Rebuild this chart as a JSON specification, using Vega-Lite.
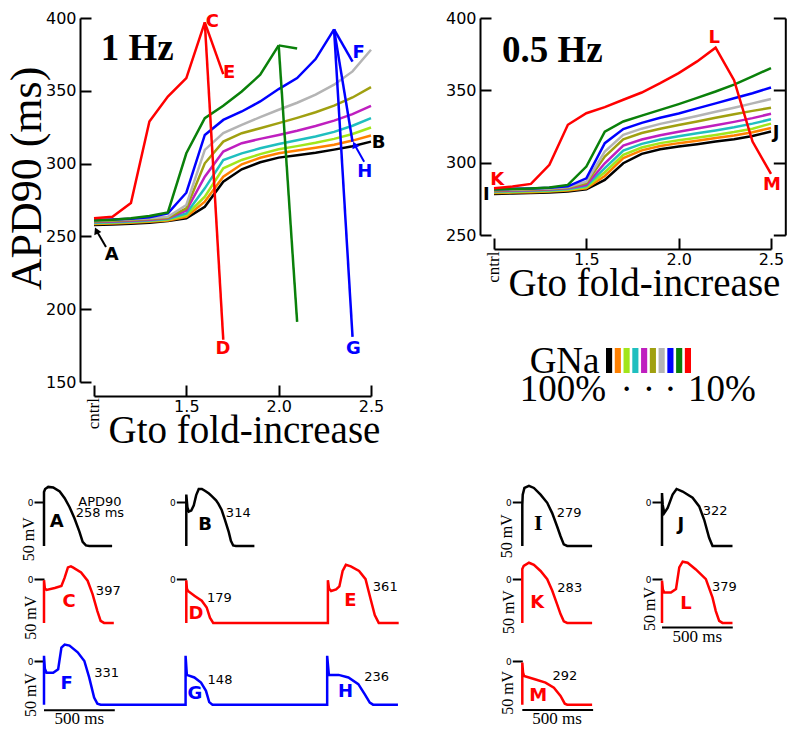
{
"$schema": "https://vega.github.io/schema/vega-lite/v6.json",
"background": "white",
"padding": {"left": 4, "top": 10, "right": 0, "bottom": 0},
"config": {"view": {"stroke": null}, "font": "DejaVu Sans", "axis": {"grid": false, "domainColor": "black", "tickColor": "black", "labelColor": "black", "titleColor": "black"}},
"datasets": {
"hz1": [
{"gna":"100%","br":"m","g":1.0,"apd":257.8},{"gna":"100%","br":"m","g":1.1,"apd":258.2},{"gna":"100%","br":"m","g":1.2,"apd":258.7},{"gna":"100%","br":"m","g":1.3,"apd":259.4},{"gna":"100%","br":"m","g":1.4,"apd":260.6},{"gna":"100%","br":"m","g":1.5,"apd":262.4},{"gna":"100%","br":"m","g":1.6,"apd":270.4},{"gna":"100%","br":"m","g":1.7,"apd":287.6},{"gna":"100%","br":"m","g":1.8,"apd":296.1},{"gna":"100%","br":"m","g":1.9,"apd":300.9},{"gna":"100%","br":"m","g":2.0,"apd":304.1},{"gna":"100%","br":"m","g":2.1,"apd":305.8},{"gna":"100%","br":"m","g":2.2,"apd":307.5},{"gna":"100%","br":"m","g":2.3,"apd":309.6},{"gna":"100%","br":"m","g":2.4,"apd":311.9},{"gna":"100%","br":"m","g":2.5,"apd":315.1},
{"gna":"90%","br":"m","g":1.0,"apd":258.5},{"gna":"90%","br":"m","g":1.1,"apd":258.9},{"gna":"90%","br":"m","g":1.2,"apd":259.4},{"gna":"90%","br":"m","g":1.3,"apd":260.1},{"gna":"90%","br":"m","g":1.4,"apd":261.0},{"gna":"90%","br":"m","g":1.5,"apd":263.5},{"gna":"90%","br":"m","g":1.6,"apd":273.9},{"gna":"90%","br":"m","g":1.7,"apd":291.0},{"gna":"90%","br":"m","g":1.8,"apd":299.5},{"gna":"90%","br":"m","g":1.9,"apd":304.0},{"gna":"90%","br":"m","g":2.0,"apd":307.1},{"gna":"90%","br":"m","g":2.1,"apd":309.0},{"gna":"90%","br":"m","g":2.2,"apd":310.9},{"gna":"90%","br":"m","g":2.3,"apd":313.0},{"gna":"90%","br":"m","g":2.4,"apd":315.8},{"gna":"90%","br":"m","g":2.5,"apd":319.3},
{"gna":"80%","br":"m","g":1.0,"apd":259.0},{"gna":"80%","br":"m","g":1.1,"apd":259.4},{"gna":"80%","br":"m","g":1.2,"apd":259.9},{"gna":"80%","br":"m","g":1.3,"apd":260.6},{"gna":"80%","br":"m","g":1.4,"apd":261.5},{"gna":"80%","br":"m","g":1.5,"apd":264.7},{"gna":"80%","br":"m","g":1.6,"apd":277.3},{"gna":"80%","br":"m","g":1.7,"apd":296.8},{"gna":"80%","br":"m","g":1.8,"apd":302.5},{"gna":"80%","br":"m","g":1.9,"apd":306.5},{"gna":"80%","br":"m","g":2.0,"apd":309.9},{"gna":"80%","br":"m","g":2.1,"apd":312.0},{"gna":"80%","br":"m","g":2.2,"apd":314.3},{"gna":"80%","br":"m","g":2.3,"apd":317.0},{"gna":"80%","br":"m","g":2.4,"apd":320.3},{"gna":"80%","br":"m","g":2.5,"apd":324.8},
{"gna":"70%","br":"m","g":1.0,"apd":259.4},{"gna":"70%","br":"m","g":1.1,"apd":259.8},{"gna":"70%","br":"m","g":1.2,"apd":260.3},{"gna":"70%","br":"m","g":1.3,"apd":261.0},{"gna":"70%","br":"m","g":1.4,"apd":262.0},{"gna":"70%","br":"m","g":1.5,"apd":265.8},{"gna":"70%","br":"m","g":1.6,"apd":283.0},{"gna":"70%","br":"m","g":1.7,"apd":302.5},{"gna":"70%","br":"m","g":1.8,"apd":307.0},{"gna":"70%","br":"m","g":1.9,"apd":310.5},{"gna":"70%","br":"m","g":2.0,"apd":313.5},{"gna":"70%","br":"m","g":2.1,"apd":316.0},{"gna":"70%","br":"m","g":2.2,"apd":318.6},{"gna":"70%","br":"m","g":2.3,"apd":321.8},{"gna":"70%","br":"m","g":2.4,"apd":326.0},{"gna":"70%","br":"m","g":2.5,"apd":331.2},
{"gna":"60%","br":"m","g":1.0,"apd":259.9},{"gna":"60%","br":"m","g":1.1,"apd":260.3},{"gna":"60%","br":"m","g":1.2,"apd":260.8},{"gna":"60%","br":"m","g":1.3,"apd":261.5},{"gna":"60%","br":"m","g":1.4,"apd":262.4},{"gna":"60%","br":"m","g":1.5,"apd":267.7},{"gna":"60%","br":"m","g":1.6,"apd":291.0},{"gna":"60%","br":"m","g":1.7,"apd":308.3},{"gna":"60%","br":"m","g":1.8,"apd":314.0},{"gna":"60%","br":"m","g":1.9,"apd":317.0},{"gna":"60%","br":"m","g":2.0,"apd":319.7},{"gna":"60%","br":"m","g":2.1,"apd":322.6},{"gna":"60%","br":"m","g":2.2,"apd":325.8},{"gna":"60%","br":"m","g":2.3,"apd":329.5},{"gna":"60%","br":"m","g":2.4,"apd":334.0},{"gna":"60%","br":"m","g":2.5,"apd":339.7},
{"gna":"50%","br":"m","g":1.0,"apd":260.3},{"gna":"50%","br":"m","g":1.1,"apd":260.7},{"gna":"50%","br":"m","g":1.2,"apd":261.2},{"gna":"50%","br":"m","g":1.3,"apd":261.9},{"gna":"50%","br":"m","g":1.4,"apd":262.8},{"gna":"50%","br":"m","g":1.5,"apd":269.3},{"gna":"50%","br":"m","g":1.6,"apd":300.2},{"gna":"50%","br":"m","g":1.7,"apd":315.1},{"gna":"50%","br":"m","g":1.8,"apd":320.9},{"gna":"50%","br":"m","g":1.9,"apd":324.3},{"gna":"50%","br":"m","g":2.0,"apd":327.8},{"gna":"50%","br":"m","g":2.1,"apd":331.4},{"gna":"50%","br":"m","g":2.2,"apd":335.3},{"gna":"50%","br":"m","g":2.3,"apd":339.8},{"gna":"50%","br":"m","g":2.4,"apd":345.4},{"gna":"50%","br":"m","g":2.5,"apd":352.5},
{"gna":"40%","br":"m","g":1.0,"apd":260.8},{"gna":"40%","br":"m","g":1.1,"apd":261.2},{"gna":"40%","br":"m","g":1.2,"apd":261.7},{"gna":"40%","br":"m","g":1.3,"apd":262.4},{"gna":"40%","br":"m","g":1.4,"apd":263.5},{"gna":"40%","br":"m","g":1.5,"apd":271.6},{"gna":"40%","br":"m","g":1.6,"apd":309.4},{"gna":"40%","br":"m","g":1.7,"apd":320.9},{"gna":"40%","br":"m","g":1.8,"apd":326.6},{"gna":"40%","br":"m","g":1.9,"apd":331.9},{"gna":"40%","br":"m","g":2.0,"apd":337.0},{"gna":"40%","br":"m","g":2.1,"apd":341.8},{"gna":"40%","br":"m","g":2.2,"apd":347.4},{"gna":"40%","br":"m","g":2.3,"apd":354.2},{"gna":"40%","br":"m","g":2.4,"apd":363.3},{"gna":"40%","br":"m","g":2.5,"apd":378.2},
{"gna":"30%","br":"m","g":1.0,"apd":261.2},{"gna":"30%","br":"m","g":1.1,"apd":261.6},{"gna":"30%","br":"m","g":1.2,"apd":262.2},{"gna":"30%","br":"m","g":1.3,"apd":263.2},{"gna":"30%","br":"m","g":1.4,"apd":265.8},{"gna":"30%","br":"m","g":1.5,"apd":280.0},{"gna":"30%","br":"m","g":1.6,"apd":319.7},{"gna":"30%","br":"m","g":1.7,"apd":330.0},{"gna":"30%","br":"m","g":1.8,"apd":335.8},{"gna":"30%","br":"m","g":1.9,"apd":342.7},{"gna":"30%","br":"m","g":2.0,"apd":351.2},{"gna":"30%","br":"m","g":2.1,"apd":358.7},{"gna":"30%","br":"m","g":2.2,"apd":371.8},{"gna":"30%","br":"m","g":2.3,"apd":392.2},
{"gna":"30%","br":"F","g":2.3,"apd":392.2},{"gna":"30%","br":"F","g":2.4,"apd":370.0},
{"gna":"30%","br":"H","g":2.3,"apd":392.2},{"gna":"30%","br":"H","g":2.4,"apd":315.0},
{"gna":"30%","br":"G","g":2.3,"apd":392.2},{"gna":"30%","br":"G","g":2.4,"apd":181.0},
{"gna":"20%","br":"m","g":1.0,"apd":261.0},{"gna":"20%","br":"m","g":1.1,"apd":261.5},{"gna":"20%","br":"m","g":1.2,"apd":262.5},{"gna":"20%","br":"m","g":1.3,"apd":264.0},{"gna":"20%","br":"m","g":1.4,"apd":266.5},{"gna":"20%","br":"m","g":1.5,"apd":307.1},{"gna":"20%","br":"m","g":1.6,"apd":331.2},{"gna":"20%","br":"m","g":1.7,"apd":339.7},{"gna":"20%","br":"m","g":1.8,"apd":349.5},{"gna":"20%","br":"m","g":1.9,"apd":361.0},{"gna":"20%","br":"m","g":2.0,"apd":381.2},
{"gna":"20%","br":"a","g":2.0,"apd":381.2},{"gna":"20%","br":"a","g":2.1,"apd":379.0},
{"gna":"20%","br":"b","g":2.0,"apd":381.2},{"gna":"20%","br":"b","g":2.1,"apd":191.3},
{"gna":"10%","br":"m","g":1.0,"apd":262.4},{"gna":"10%","br":"m","g":1.1,"apd":263.5},{"gna":"10%","br":"m","g":1.2,"apd":273.0},{"gna":"10%","br":"m","g":1.3,"apd":328.9},{"gna":"10%","br":"m","g":1.4,"apd":346.0},{"gna":"10%","br":"m","g":1.5,"apd":358.7},{"gna":"10%","br":"m","g":1.6,"apd":397.0},
{"gna":"10%","br":"E","g":1.6,"apd":397.0},{"gna":"10%","br":"E","g":1.7,"apd":361.5},
{"gna":"10%","br":"D","g":1.6,"apd":397.0},{"gna":"10%","br":"D","g":1.7,"apd":179.0}
],
"hz05": [
{"gna":"100%","g":1.0,"apd":278.4},{"gna":"100%","g":1.1,"apd":278.7},{"gna":"100%","g":1.2,"apd":279.0},{"gna":"100%","g":1.3,"apd":279.4},{"gna":"100%","g":1.4,"apd":280.0},{"gna":"100%","g":1.5,"apd":281.6},{"gna":"100%","g":1.6,"apd":288.1},{"gna":"100%","g":1.7,"apd":299.6},{"gna":"100%","g":1.8,"apd":306.1},{"gna":"100%","g":1.9,"apd":309.3},{"gna":"100%","g":2.0,"apd":311.1},{"gna":"100%","g":2.1,"apd":312.8},{"gna":"100%","g":2.2,"apd":314.6},{"gna":"100%","g":2.3,"apd":316.2},{"gna":"100%","g":2.4,"apd":318.5},{"gna":"100%","g":2.5,"apd":321.5},
{"gna":"90%","g":1.0,"apd":279.0},{"gna":"90%","g":1.1,"apd":279.3},{"gna":"90%","g":1.2,"apd":279.6},{"gna":"90%","g":1.3,"apd":280.0},{"gna":"90%","g":1.4,"apd":280.7},{"gna":"90%","g":1.5,"apd":282.3},{"gna":"90%","g":1.6,"apd":290.8},{"gna":"90%","g":1.7,"apd":303.1},{"gna":"90%","g":1.8,"apd":308.5},{"gna":"90%","g":1.9,"apd":311.5},{"gna":"90%","g":2.0,"apd":313.5},{"gna":"90%","g":2.1,"apd":315.2},{"gna":"90%","g":2.2,"apd":317.0},{"gna":"90%","g":2.3,"apd":318.8},{"gna":"90%","g":2.4,"apd":321.0},{"gna":"90%","g":2.5,"apd":324.0},
{"gna":"80%","g":1.0,"apd":279.5},{"gna":"80%","g":1.1,"apd":279.8},{"gna":"80%","g":1.2,"apd":280.1},{"gna":"80%","g":1.3,"apd":280.5},{"gna":"80%","g":1.4,"apd":281.3},{"gna":"80%","g":1.5,"apd":283.0},{"gna":"80%","g":1.6,"apd":293.4},{"gna":"80%","g":1.7,"apd":305.4},{"gna":"80%","g":1.8,"apd":310.5},{"gna":"80%","g":1.9,"apd":313.5},{"gna":"80%","g":2.0,"apd":315.5},{"gna":"80%","g":2.1,"apd":317.3},{"gna":"80%","g":2.2,"apd":319.2},{"gna":"80%","g":2.3,"apd":321.2},{"gna":"80%","g":2.4,"apd":323.5},{"gna":"80%","g":2.5,"apd":327.0},
{"gna":"70%","g":1.0,"apd":280.0},{"gna":"70%","g":1.1,"apd":280.3},{"gna":"70%","g":1.2,"apd":280.6},{"gna":"70%","g":1.3,"apd":281.0},{"gna":"70%","g":1.4,"apd":281.8},{"gna":"70%","g":1.5,"apd":283.9},{"gna":"70%","g":1.6,"apd":296.2},{"gna":"70%","g":1.7,"apd":308.4},{"gna":"70%","g":1.8,"apd":313.0},{"gna":"70%","g":1.9,"apd":316.0},{"gna":"70%","g":2.0,"apd":318.3},{"gna":"70%","g":2.1,"apd":320.3},{"gna":"70%","g":2.2,"apd":322.3},{"gna":"70%","g":2.3,"apd":324.5},{"gna":"70%","g":2.4,"apd":327.0},{"gna":"70%","g":2.5,"apd":330.0},
{"gna":"60%","g":1.0,"apd":280.4},{"gna":"60%","g":1.1,"apd":280.7},{"gna":"60%","g":1.2,"apd":281.0},{"gna":"60%","g":1.3,"apd":281.4},{"gna":"60%","g":1.4,"apd":282.3},{"gna":"60%","g":1.5,"apd":284.6},{"gna":"60%","g":1.6,"apd":299.6},{"gna":"60%","g":1.7,"apd":311.8},{"gna":"60%","g":1.8,"apd":316.0},{"gna":"60%","g":1.9,"apd":319.0},{"gna":"60%","g":2.0,"apd":321.4},{"gna":"60%","g":2.1,"apd":323.6},{"gna":"60%","g":2.2,"apd":325.8},{"gna":"60%","g":2.3,"apd":328.2},{"gna":"60%","g":2.4,"apd":330.8},{"gna":"60%","g":2.5,"apd":333.8},
{"gna":"50%","g":1.0,"apd":280.8},{"gna":"50%","g":1.1,"apd":281.1},{"gna":"50%","g":1.2,"apd":281.4},{"gna":"50%","g":1.3,"apd":281.8},{"gna":"50%","g":1.4,"apd":282.7},{"gna":"50%","g":1.5,"apd":285.8},{"gna":"50%","g":1.6,"apd":304.2},{"gna":"50%","g":1.7,"apd":316.2},{"gna":"50%","g":1.8,"apd":320.5},{"gna":"50%","g":1.9,"apd":323.5},{"gna":"50%","g":2.0,"apd":326.0},{"gna":"50%","g":2.1,"apd":328.5},{"gna":"50%","g":2.2,"apd":331.0},{"gna":"50%","g":2.3,"apd":333.5},{"gna":"50%","g":2.4,"apd":335.8},{"gna":"50%","g":2.5,"apd":338.0},
{"gna":"40%","g":1.0,"apd":281.2},{"gna":"40%","g":1.1,"apd":281.5},{"gna":"40%","g":1.2,"apd":281.8},{"gna":"40%","g":1.3,"apd":282.2},{"gna":"40%","g":1.4,"apd":283.2},{"gna":"40%","g":1.5,"apd":286.9},{"gna":"40%","g":1.6,"apd":307.7},{"gna":"40%","g":1.7,"apd":319.2},{"gna":"40%","g":1.8,"apd":323.5},{"gna":"40%","g":1.9,"apd":326.8},{"gna":"40%","g":2.0,"apd":329.5},{"gna":"40%","g":2.1,"apd":332.3},{"gna":"40%","g":2.2,"apd":335.2},{"gna":"40%","g":2.3,"apd":338.0},{"gna":"40%","g":2.4,"apd":341.0},{"gna":"40%","g":2.5,"apd":344.0},
{"gna":"30%","g":1.0,"apd":281.6},{"gna":"30%","g":1.1,"apd":281.9},{"gna":"30%","g":1.2,"apd":282.2},{"gna":"30%","g":1.3,"apd":282.6},{"gna":"30%","g":1.4,"apd":283.6},{"gna":"30%","g":1.5,"apd":289.2},{"gna":"30%","g":1.6,"apd":313.5},{"gna":"30%","g":1.7,"apd":323.2},{"gna":"30%","g":1.8,"apd":327.5},{"gna":"30%","g":1.9,"apd":331.0},{"gna":"30%","g":2.0,"apd":334.0},{"gna":"30%","g":2.1,"apd":337.5},{"gna":"30%","g":2.2,"apd":341.0},{"gna":"30%","g":2.3,"apd":344.5},{"gna":"30%","g":2.4,"apd":348.0},{"gna":"30%","g":2.5,"apd":352.0},
{"gna":"20%","g":1.0,"apd":281.5},{"gna":"20%","g":1.1,"apd":281.8},{"gna":"20%","g":1.2,"apd":282.2},{"gna":"20%","g":1.3,"apd":282.8},{"gna":"20%","g":1.4,"apd":284.6},{"gna":"20%","g":1.5,"apd":297.3},{"gna":"20%","g":1.6,"apd":321.5},{"gna":"20%","g":1.7,"apd":328.5},{"gna":"20%","g":1.8,"apd":332.5},{"gna":"20%","g":1.9,"apd":336.5},{"gna":"20%","g":2.0,"apd":340.5},{"gna":"20%","g":2.1,"apd":344.8},{"gna":"20%","g":2.2,"apd":349.2},{"gna":"20%","g":2.3,"apd":354.0},{"gna":"20%","g":2.4,"apd":359.6},{"gna":"20%","g":2.5,"apd":365.4},
{"gna":"10%","g":1.0,"apd":282.3},{"gna":"10%","g":1.1,"apd":283.5},{"gna":"10%","g":1.2,"apd":285.3},{"gna":"10%","g":1.3,"apd":298.5},{"gna":"10%","g":1.4,"apd":326.2},{"gna":"10%","g":1.5,"apd":334.2},{"gna":"10%","g":1.6,"apd":338.4},{"gna":"10%","g":1.7,"apd":343.5},{"gna":"10%","g":1.8,"apd":348.5},{"gna":"10%","g":1.9,"apd":355.0},{"gna":"10%","g":2.0,"apd":361.9},{"gna":"10%","g":2.1,"apd":370.0},{"gna":"10%","g":2.2,"apd":379.5},{"gna":"10%","g":2.3,"apd":357.0},{"gna":"10%","g":2.4,"apd":314.6},{"gna":"10%","g":2.5,"apd":292.2}
],
"lab1": [
{"txt":"C","g":1.641,"apd":397.5,"gna":"10%"},{"txt":"E","g":1.732,"apd":362,"gna":"10%"},{"txt":"D","g":1.699,"apd":173,"gna":"10%"},{"txt":"A","g":1.096,"apd":237,"gna":"100%"},{"txt":"B","g":2.541,"apd":314,"gna":"100%"},{"txt":"F","g":2.433,"apd":376,"gna":"30%"},{"txt":"H","g":2.467,"apd":294,"gna":"30%"},{"txt":"G","g":2.404,"apd":173,"gna":"30%"}
],
"lab05": [
{"txt":"L","g":2.192,"apd":386,"gna":"10%"},{"txt":"K","g":1.018,"apd":288,"gna":"10%"},{"txt":"I","g":0.958,"apd":277.6,"gna":"100%"},{"txt":"J","g":2.527,"apd":320.3,"gna":"100%"},{"txt":"M","g":2.505,"apd":284.6,"gna":"10%"}
],
"ticks05": [{"apd":250},{"apd":400}],
"leg": [{"gna":"100%"},{"gna":"90%"},{"gna":"80%"},{"gna":"70%"},{"gna":"60%"},{"gna":"50%"},{"gna":"40%"},{"gna":"30%"},{"gna":"20%"},{"gna":"10%"}],
"ap": [
{"pan":"A","i":0,"t":0,"v":-85},{"pan":"A","i":1,"t":0,"v":20},{"pan":"A","i":2,"t":8,"v":26},{"pan":"A","i":3,"t":30,"v":30},{"pan":"A","i":4,"t":65,"v":29},{"pan":"A","i":5,"t":111,"v":21},{"pan":"A","i":6,"t":146,"v":8},{"pan":"A","i":7,"t":180,"v":-9},{"pan":"A","i":8,"t":215,"v":-31},{"pan":"A","i":9,"t":250,"v":-57},{"pan":"A","i":10,"t":273,"v":-77},{"pan":"A","i":11,"t":296,"v":-84},{"pan":"A","i":12,"t":320,"v":-85},{"pan":"A","i":13,"t":481,"v":-85},
{"pan":"B","i":0,"t":0,"v":-85},{"pan":"B","i":1,"t":0,"v":15},{"pan":"B","i":2,"t":8,"v":-10},{"pan":"B","i":3,"t":18,"v":-18},{"pan":"B","i":4,"t":35,"v":-16},{"pan":"B","i":5,"t":53,"v":-6},{"pan":"B","i":6,"t":70,"v":14},{"pan":"B","i":7,"t":88,"v":26},{"pan":"B","i":8,"t":110,"v":26},{"pan":"B","i":9,"t":134,"v":22},{"pan":"B","i":10,"t":160,"v":17},{"pan":"B","i":11,"t":180,"v":12},{"pan":"B","i":12,"t":210,"v":4},{"pan":"B","i":13,"t":227,"v":-3},{"pan":"B","i":14,"t":250,"v":-15},{"pan":"B","i":15,"t":273,"v":-34},{"pan":"B","i":16,"t":300,"v":-58},{"pan":"B","i":17,"t":315,"v":-75},{"pan":"B","i":18,"t":331,"v":-84},{"pan":"B","i":19,"t":350,"v":-85},{"pan":"B","i":20,"t":481,"v":-85},
{"pan":"C","i":0,"t":0,"v":-85},{"pan":"C","i":1,"t":0,"v":-2},{"pan":"C","i":2,"t":6,"v":-18},{"pan":"C","i":3,"t":18,"v":-21},{"pan":"C","i":4,"t":76,"v":-17},{"pan":"C","i":5,"t":123,"v":-13},{"pan":"C","i":6,"t":146,"v":3},{"pan":"C","i":7,"t":169,"v":23},{"pan":"C","i":8,"t":190,"v":25},{"pan":"C","i":9,"t":204,"v":23},{"pan":"C","i":10,"t":262,"v":13},{"pan":"C","i":11,"t":308,"v":-3},{"pan":"C","i":12,"t":343,"v":-29},{"pan":"C","i":13,"t":377,"v":-62},{"pan":"C","i":14,"t":400,"v":-81},{"pan":"C","i":15,"t":424,"v":-85},{"pan":"C","i":16,"t":493,"v":-85},
{"pan":"DE","i":0,"t":0,"v":-85},{"pan":"DE","i":1,"t":0,"v":-2},{"pan":"DE","i":2,"t":4,"v":-18},{"pan":"DE","i":3,"t":12,"v":-23},{"pan":"DE","i":4,"t":62,"v":-33},{"pan":"DE","i":5,"t":109,"v":-42},{"pan":"DE","i":6,"t":144,"v":-55},{"pan":"DE","i":7,"t":167,"v":-75},{"pan":"DE","i":8,"t":190,"v":-85},{"pan":"DE","i":9,"t":1000,"v":-85},{"pan":"DE","i":10,"t":1000,"v":-2},{"pan":"DE","i":11,"t":1008,"v":-18},{"pan":"DE","i":12,"t":1023,"v":-23},{"pan":"DE","i":13,"t":1058,"v":-20},{"pan":"DE","i":14,"t":1081,"v":-14},{"pan":"DE","i":15,"t":1104,"v":16},{"pan":"DE","i":16,"t":1127,"v":28},{"pan":"DE","i":17,"t":1162,"v":25},{"pan":"DE","i":18,"t":1220,"v":16},{"pan":"DE","i":19,"t":1266,"v":0},{"pan":"DE","i":20,"t":1301,"v":-38},{"pan":"DE","i":21,"t":1331,"v":-70},{"pan":"DE","i":22,"t":1359,"v":-85},{"pan":"DE","i":23,"t":1500,"v":-85},
{"pan":"FGH","i":0,"t":0,"v":-85},{"pan":"FGH","i":1,"t":0,"v":10},{"pan":"FGH","i":2,"t":6,"v":-15},{"pan":"FGH","i":3,"t":18,"v":-23},{"pan":"FGH","i":4,"t":65,"v":-23},{"pan":"FGH","i":5,"t":100,"v":-16},{"pan":"FGH","i":6,"t":123,"v":26},{"pan":"FGH","i":7,"t":146,"v":32},{"pan":"FGH","i":8,"t":180,"v":30},{"pan":"FGH","i":9,"t":238,"v":17},{"pan":"FGH","i":10,"t":285,"v":0},{"pan":"FGH","i":11,"t":319,"v":-32},{"pan":"FGH","i":12,"t":354,"v":-71},{"pan":"FGH","i":13,"t":377,"v":-83},{"pan":"FGH","i":14,"t":400,"v":-85},{"pan":"FGH","i":15,"t":1000,"v":-85},{"pan":"FGH","i":16,"t":1000,"v":10},{"pan":"FGH","i":17,"t":1009,"v":-27},{"pan":"FGH","i":18,"t":1062,"v":-32},{"pan":"FGH","i":19,"t":1109,"v":-42},{"pan":"FGH","i":20,"t":1144,"v":-58},{"pan":"FGH","i":21,"t":1167,"v":-80},{"pan":"FGH","i":22,"t":1190,"v":-85},{"pan":"FGH","i":23,"t":2000,"v":-85},{"pan":"FGH","i":24,"t":2000,"v":10},{"pan":"FGH","i":25,"t":2012,"v":-27},{"pan":"FGH","i":26,"t":2081,"v":-27},{"pan":"FGH","i":27,"t":2150,"v":-32},{"pan":"FGH","i":28,"t":2220,"v":-45},{"pan":"FGH","i":29,"t":2266,"v":-65},{"pan":"FGH","i":30,"t":2301,"v":-81},{"pan":"FGH","i":31,"t":2324,"v":-85},{"pan":"FGH","i":32,"t":2500,"v":-85},
{"pan":"I","i":0,"t":0,"v":-85},{"pan":"I","i":1,"t":0,"v":-5},{"pan":"I","i":2,"t":3,"v":15},{"pan":"I","i":3,"t":15,"v":28},{"pan":"I","i":4,"t":47,"v":32},{"pan":"I","i":5,"t":82,"v":28},{"pan":"I","i":6,"t":129,"v":15},{"pan":"I","i":7,"t":176,"v":-1},{"pan":"I","i":8,"t":211,"v":-21},{"pan":"I","i":9,"t":246,"v":-47},{"pan":"I","i":10,"t":270,"v":-66},{"pan":"I","i":11,"t":293,"v":-82},{"pan":"I","i":12,"t":317,"v":-85},{"pan":"I","i":13,"t":493,"v":-85},
{"pan":"J","i":0,"t":0,"v":-85},{"pan":"J","i":1,"t":0,"v":18},{"pan":"J","i":2,"t":5,"v":-5},{"pan":"J","i":3,"t":16,"v":-21},{"pan":"J","i":4,"t":40,"v":-11},{"pan":"J","i":5,"t":75,"v":15},{"pan":"J","i":6,"t":103,"v":26},{"pan":"J","i":7,"t":146,"v":21},{"pan":"J","i":8,"t":216,"v":9},{"pan":"J","i":9,"t":263,"v":-8},{"pan":"J","i":10,"t":298,"v":-34},{"pan":"J","i":11,"t":333,"v":-69},{"pan":"J","i":12,"t":357,"v":-85},{"pan":"J","i":13,"t":498,"v":-85},
{"pan":"K","i":0,"t":0,"v":-85},{"pan":"K","i":1,"t":0,"v":20},{"pan":"K","i":2,"t":10,"v":26},{"pan":"K","i":3,"t":47,"v":32},{"pan":"K","i":4,"t":82,"v":28},{"pan":"K","i":5,"t":129,"v":16},{"pan":"K","i":6,"t":176,"v":0},{"pan":"K","i":7,"t":211,"v":-22},{"pan":"K","i":8,"t":246,"v":-49},{"pan":"K","i":9,"t":270,"v":-68},{"pan":"K","i":10,"t":293,"v":-82},{"pan":"K","i":11,"t":317,"v":-85},{"pan":"K","i":12,"t":493,"v":-85},
{"pan":"L","i":0,"t":0,"v":-85},{"pan":"L","i":1,"t":0,"v":-3},{"pan":"L","i":2,"t":6,"v":-20},{"pan":"L","i":3,"t":16,"v":-26},{"pan":"L","i":4,"t":63,"v":-26},{"pan":"L","i":5,"t":99,"v":-19},{"pan":"L","i":6,"t":122,"v":23},{"pan":"L","i":7,"t":146,"v":34},{"pan":"L","i":8,"t":181,"v":32},{"pan":"L","i":9,"t":239,"v":19},{"pan":"L","i":10,"t":310,"v":0},{"pan":"L","i":11,"t":357,"v":-36},{"pan":"L","i":12,"t":380,"v":-62},{"pan":"L","i":13,"t":404,"v":-81},{"pan":"L","i":14,"t":427,"v":-85},{"pan":"L","i":15,"t":498,"v":-85},
{"pan":"M","i":0,"t":0,"v":-85},{"pan":"M","i":1,"t":0,"v":-3},{"pan":"M","i":2,"t":5,"v":-22},{"pan":"M","i":3,"t":12,"v":-29},{"pan":"M","i":4,"t":94,"v":-36},{"pan":"M","i":5,"t":164,"v":-42},{"pan":"M","i":6,"t":223,"v":-52},{"pan":"M","i":7,"t":270,"v":-68},{"pan":"M","i":8,"t":300,"v":-83},{"pan":"M","i":9,"t":317,"v":-85},{"pan":"M","i":10,"t":493,"v":-85}
],
"ann": [
{"pan":"A","k":"let","txt":"A","t":89,"v":-38},{"pan":"A","k":"num","txt":"APD90","t":395,"v":1},{"pan":"A","k":"num","txt":"258 ms","t":395,"v":-21},
{"pan":"B","k":"let","txt":"B","t":132,"v":-44},{"pan":"B","k":"num","txt":"314","t":367,"v":-20},
{"pan":"C","k":"let","txt":"C","t":177,"v":-45},{"pan":"C","k":"num","txt":"397","t":454,"v":-23},
{"pan":"DE","k":"let","txt":"D","t":68,"v":-68},{"pan":"DE","k":"num","txt":"179","t":233,"v":-36},{"pan":"DE","k":"let","txt":"E","t":1158,"v":-42},{"pan":"DE","k":"num","txt":"361","t":1405,"v":-16},
{"pan":"FGH","k":"let","txt":"F","t":160,"v":-45},{"pan":"FGH","k":"num","txt":"331","t":442,"v":-23},{"pan":"FGH","k":"let","txt":"G","t":1066,"v":-65},{"pan":"FGH","k":"num","txt":"148","t":1243,"v":-37},{"pan":"FGH","k":"let","txt":"H","t":2130,"v":-60},{"pan":"FGH","k":"num","txt":"236","t":2349,"v":-32},
{"pan":"I","k":"let","txt":"I","t":113,"v":-41},{"pan":"I","k":"num","txt":"279","t":330,"v":-20},
{"pan":"J","k":"let","txt":"J","t":134,"v":-44},{"pan":"J","k":"num","txt":"322","t":376,"v":-16},
{"pan":"K","k":"let","txt":"K","t":106,"v":-47},{"pan":"K","k":"num","txt":"283","t":335,"v":-17},
{"pan":"L","k":"let","txt":"L","t":169,"v":-48},{"pan":"L","k":"num","txt":"379","t":440,"v":-16},
{"pan":"M","k":"let","txt":"M","t":113,"v":-68},{"pan":"M","k":"num","txt":"292","t":301,"v":-29}
],
"mv": [
{"pan":"A","t":-104,"v":-72},{"pan":"C","t":-90,"v":-75},{"pan":"FGH","t":-90,"v":-66},{"pan":"I","t":-108,"v":-66},{"pan":"K","t":-94,"v":-64},{"pan":"L","t":-84,"v":-58},{"pan":"M","t":-101,"v":-62}
],
"ms": [
{"pan":"FGH","t":0,"t2":500,"v":-96,"tt":250,"tv":-113},{"pan":"L","t":0,"t2":500,"v":-94,"tt":250,"tv":-112},{"pan":"M","t":0,"t2":500,"v":-95.5,"tt":245,"tv":-113}
]
},
"concat": [
{"width": 49.3, "height": 1, "data": {"values": [{}]}, "mark": {"type": "point", "opacity": 0}, "encoding": {}},
{
"width": 277, "height": 364,
"layer": [
{"data": {"name": "hz1"}, "mark": {"type": "line", "strokeWidth": 2.5},
 "encoding": {
  "x": {"field": "g", "type": "quantitative", "scale": {"domain": [1, 2.5], "nice": false, "zero": false},
   "axis": {"values": [1, 1.5, 2, 2.5], "labelExpr": "datum.value == 1 ? '' : format(datum.value, '.1f')", "offset": 14, "tickSize": -11, "tickWidth": 2, "domainWidth": 2, "labelFont": "DejaVu Sans", "labelFontSize": 16, "labelPadding": 13, "labelFlush": false, "labelOverlap": false, "title": "Gto fold-increase", "titleFont": "Liberation Serif", "titleFontSize": 39, "titleFontWeight": "normal", "titleX": 150, "titleY": 46, "titleAlign": "center", "titleBaseline": "alphabetic"}},
  "y": {"field": "apd", "type": "quantitative", "scale": {"domain": [150, 400], "nice": false, "zero": false},
   "axis": {"values": [150, 200, 250, 300, 350, 400], "offset": 14, "tickSize": -11, "tickWidth": 2, "domainWidth": 2, "labelFont": "DejaVu Sans", "labelFontSize": 16, "labelPadding": 15, "labelFlush": false, "labelOverlap": false, "title": "APD90 (ms)", "titleFont": "Liberation Serif", "titleFontSize": 44, "titleFontWeight": "normal", "titleX": -40, "titleY": 160, "titleAngle": 270, "titleAlign": "center", "titleBaseline": "alphabetic"}},
  "color": {"field": "gna", "type": "nominal", "scale": {"domain": ["100%","90%","80%","70%","60%","50%","40%","30%","20%","10%"], "range": ["#000000","#ff8000","#a2e61a","#1fbfbf","#bf1fbf","#a0a010","#b4b4b4","#0000ff","#0a800a","#ff0000"]}, "legend": null},
  "detail": {"field": "br"}
 }},
{"data": {"name": "lab1"}, "mark": {"type": "text", "font": "DejaVu Sans", "fontWeight": "bold", "fontSize": 18},
 "encoding": {"x": {"field": "g", "type": "quantitative"}, "y": {"field": "apd", "type": "quantitative"}, "text": {"field": "txt"},
  "color": {"field": "gna", "type": "nominal", "scale": {"domain": ["100%","90%","80%","70%","60%","50%","40%","30%","20%","10%"], "range": ["#000000","#ff8000","#a2e61a","#1fbfbf","#bf1fbf","#a0a010","#b4b4b4","#0000ff","#0a800a","#ff0000"]}, "legend": null}}},
{"data": {"values": [{}]}, "mark": {"type": "text", "font": "Liberation Serif", "fontWeight": "bold", "fontSize": 37, "align": "left", "baseline": "alphabetic", "text": "1 Hz", "color": "black"},
 "encoding": {"x": {"datum": 1.036}, "y": {"datum": 371}}},
{"data": {"values": [{}]}, "mark": {"type": "text", "font": "Liberation Serif", "fontSize": 17, "angle": 270, "align": "right", "baseline": "middle", "text": "cntrl", "color": "black"},
 "encoding": {"x": {"datum": 1}, "y": {"datum": 139}}},
{"data": {"values": [{}]}, "mark": {"type": "rule", "strokeWidth": 2, "color": "black"},
 "encoding": {"x": {"datum": 1.065}, "y": {"datum": 242.7}, "x2": {"datum": 1.013}, "y2": {"datum": 254}}},
{"data": {"values": [{}]}, "mark": {"type": "point", "shape": "triangle-up", "filled": true, "size": 60, "angle": 335, "color": "black", "opacity": 1},
 "encoding": {"x": {"datum": 1.013}, "y": {"datum": 254}}},
{"data": {"values": [{}]}, "mark": {"type": "rule", "strokeWidth": 2, "color": "#0000ff"},
 "encoding": {"x": {"datum": 2.463}, "y": {"datum": 301.3}, "x2": {"datum": 2.411}, "y2": {"datum": 313}}},
{"data": {"values": [{}]}, "mark": {"type": "point", "shape": "triangle-up", "filled": true, "size": 60, "angle": 335, "color": "#0000ff", "opacity": 1},
 "encoding": {"x": {"datum": 2.411}, "y": {"datum": 313}}}
]
},
{"width": 123, "height": 1, "data": {"values": [{}]}, "mark": {"type": "point", "opacity": 0}, "encoding": {}},
{
"concat": [
{
"width": 277, "height": 217,
"layer": [
{"data": {"name": "hz05"}, "mark": {"type": "line", "strokeWidth": 2.5},
 "encoding": {
  "x": {"field": "g", "type": "quantitative", "scale": {"domain": [1, 2.5], "nice": false, "zero": false},
   "axis": {"values": [1, 1.5, 2, 2.5], "labelExpr": "datum.value == 1 ? '' : format(datum.value, '.1f')", "offset": 14, "tickSize": -11, "tickWidth": 2, "domainWidth": 2, "labelFont": "DejaVu Sans", "labelFontSize": 16, "labelPadding": 13, "labelFlush": false, "labelOverlap": false, "title": "Gto fold-increase", "titleFont": "Liberation Serif", "titleFontSize": 39, "titleFontWeight": "normal", "titleX": 150, "titleY": 46, "titleAlign": "center", "titleBaseline": "alphabetic"}},
  "y": {"field": "apd", "type": "quantitative", "scale": {"domain": [250, 400], "nice": false, "zero": false},
   "axis": {"values": [250, 300, 350, 400], "offset": 14, "tickSize": -11, "tickWidth": 2, "domainWidth": 2, "labelFont": "DejaVu Sans", "labelFontSize": 16, "labelPadding": 15, "labelFlush": false, "labelOverlap": false, "title": null}},
  "color": {"field": "gna", "type": "nominal", "scale": {"domain": ["100%","90%","80%","70%","60%","50%","40%","30%","20%","10%"], "range": ["#000000","#ff8000","#a2e61a","#1fbfbf","#bf1fbf","#a0a010","#b4b4b4","#0000ff","#0a800a","#ff0000"]}, "legend": null}
 }},
{"data": {"name": "lab05"}, "mark": {"type": "text", "font": "DejaVu Sans", "fontWeight": "bold", "fontSize": 18},
 "encoding": {"x": {"field": "g", "type": "quantitative"}, "y": {"field": "apd", "type": "quantitative"}, "text": {"field": "txt"},
  "color": {"field": "gna", "type": "nominal", "scale": {"domain": ["100%","90%","80%","70%","60%","50%","40%","30%","20%","10%"], "range": ["#000000","#ff8000","#a2e61a","#1fbfbf","#bf1fbf","#a0a010","#b4b4b4","#0000ff","#0a800a","#ff0000"]}, "legend": null}}},
{"data": {"values": [{}]}, "mark": {"type": "text", "font": "Liberation Serif", "fontWeight": "bold", "fontSize": 37, "align": "left", "baseline": "alphabetic", "text": "0.5 Hz", "color": "black"},
 "encoding": {"x": {"datum": 1.043}, "y": {"datum": 369.8}}},
{"data": {"values": [{}]}, "mark": {"type": "text", "font": "Liberation Serif", "fontSize": 17, "angle": 270, "align": "right", "baseline": "middle", "text": "cntrl", "color": "black"},
 "encoding": {"x": {"datum": 1}, "y": {"datum": 238.5}}}
]
},
{
"concat": [
{"width": 112, "height": 1, "data": {"values": [{}]}, "mark": {"type": "point", "opacity": 0}, "encoding": {}},
{
"width": 85, "height": 25,
"data": {"name": "leg"},
"mark": {"type": "bar"},
"encoding": {
 "x": {"field": "gna", "type": "ordinal", "scale": {"domain": ["100%","90%","80%","70%","60%","50%","40%","30%","20%","10%"], "paddingInner": 0.3, "paddingOuter": 0},
  "axis": {"domain": false, "ticks": false, "tickSize": 0, "labelAngle": 0, "labelOverlap": false, "labelFont": "Liberation Serif", "labelFontSize": 37, "labelBaseline": "alphabetic", "labelPadding": 27, "labelColor": "black",
   "labelExpr": "datum.value == '100%' ? '100%' : datum.value == '10%' ? '10%' : (datum.value == '80%' || datum.value == '50%' || datum.value == '30%') ? '·' : ''",
   "labelAlign": {"condition": [{"test": "datum.value == '100%'", "value": "right"}, {"test": "datum.value == '10%'", "value": "left"}], "value": "center"},
   "labelOffset": {"condition": [{"test": "datum.value == '100%'", "value": -3}, {"test": "datum.value == '50%'", "value": -4}], "value": 0},
   "title": null}},
 "y": {"datum": 1, "type": "quantitative", "scale": {"domain": [0, 1], "nice": false},
  "axis": {"domain": false, "ticks": false, "labels": false, "title": "GNa", "titleAngle": 0, "titleFont": "Liberation Serif", "titleFontSize": 37, "titleFontWeight": "normal", "titleAlign": "right", "titleBaseline": "alphabetic", "titleX": -7, "titleY": 24}},
 "y2": {"datum": 0},
 "color": {"field": "gna", "type": "nominal", "scale": {"domain": ["100%","90%","80%","70%","60%","50%","40%","30%","20%","10%"], "range": ["#000000","#ff8000","#a2e61a","#1fbfbf","#bf1fbf","#a0a010","#b4b4b4","#0000ff","#0a800a","#ff0000"]}, "legend": null}
}
}
],
"columns": 2, "spacing": 0, "bounds": "flush", "align": "none"
}
],
"columns": 1, "spacing": 113, "bounds": "flush", "align": "each"
},
{"width": 127.4, "height": 217, "data": {"name": "ticks05"}, "mark": {"type": "point", "opacity": 0},
 "encoding": {"y": {"field": "apd", "type": "quantitative", "scale": {"domain": [250, 400], "nice": false, "zero": false},
  "axis": {"orient": "left", "values": [250, 300, 350, 400], "offset": -123.3, "tickSize": 12, "tickWidth": 2, "domainWidth": 2, "labels": false, "title": null}}}},

{"width": 49.3, "height": 169.1, "layer": [
 {"data": {"name": "ap"}, "transform": [{"filter": "datum.pan == 'A'"}], "mark": {"type": "line", "strokeWidth": 2.5, "color": "black"},
  "encoding": {"x": {"field": "t", "type": "quantitative", "scale": {"domain": [0, 348.2], "nice": false, "zero": false}, "axis": null},
   "y": {"field": "v", "type": "quantitative", "scale": {"domain": [-95, 234.3], "nice": false, "zero": false}, "axis": {"values": [0], "tickSize": 10, "tickWidth": 2, "domain": false, "labelFont": "DejaVu Sans", "labelFontSize": 9, "labelPadding": 1, "title": null}},
   "order": {"field": "i", "type": "quantitative"}}},
 {"data": {"name": "ann"}, "transform": [{"filter": "datum.pan == 'A' && datum.k == 'let'"}], "mark": {"type": "text", "font": "DejaVu Sans", "fontWeight": "bold", "fontSize": 18, "color": "black"}, "encoding": {"x": {"field": "t", "type": "quantitative"}, "y": {"field": "v", "type": "quantitative"}, "text": {"field": "txt"}}},
 {"data": {"name": "ann"}, "transform": [{"filter": "datum.pan == 'A' && datum.k == 'num'"}], "mark": {"type": "text", "font": "DejaVu Sans", "fontSize": 13, "color": "black"}, "encoding": {"x": {"field": "t", "type": "quantitative"}, "y": {"field": "v", "type": "quantitative"}, "text": {"field": "txt"}}},
 {"data": {"name": "mv"}, "transform": [{"filter": "datum.pan == 'A'"}], "mark": {"type": "text", "font": "Liberation Serif", "fontSize": 16, "angle": 270, "align": "center", "baseline": "middle", "text": "50 mV", "color": "black"}, "encoding": {"x": {"field": "t", "type": "quantitative"}, "y": {"field": "v", "type": "quantitative"}}}
]},
{"width": 277, "height": 169.1, "layer": [
 {"data": {"name": "ap"}, "transform": [{"filter": "datum.pan == 'B'"}], "mark": {"type": "line", "strokeWidth": 2.5, "color": "black"},
  "encoding": {"x": {"field": "t", "type": "quantitative", "scale": {"domain": [-651.8, 1304.4], "nice": false, "zero": false}, "axis": null},
   "y": {"field": "v", "type": "quantitative", "scale": {"domain": [-95, 234.3], "nice": false, "zero": false}, "axis": {"values": [0], "offset": -92.3, "tickSize": 10, "tickWidth": 2, "domain": false, "labelFont": "DejaVu Sans", "labelFontSize": 9, "labelPadding": 1, "title": null}},
   "order": {"field": "i", "type": "quantitative"}}},
 {"data": {"name": "ann"}, "transform": [{"filter": "datum.pan == 'B' && datum.k == 'let'"}], "mark": {"type": "text", "font": "DejaVu Sans", "fontWeight": "bold", "fontSize": 18, "color": "black"}, "encoding": {"x": {"field": "t", "type": "quantitative"}, "y": {"field": "v", "type": "quantitative"}, "text": {"field": "txt"}}},
 {"data": {"name": "ann"}, "transform": [{"filter": "datum.pan == 'B' && datum.k == 'num'"}], "mark": {"type": "text", "font": "DejaVu Sans", "fontSize": 13, "color": "black"}, "encoding": {"x": {"field": "t", "type": "quantitative"}, "y": {"field": "v", "type": "quantitative"}, "text": {"field": "txt"}}}
]},
{"width": 123, "height": 1, "data": {"values": [{}]}, "mark": {"type": "point", "opacity": 0}, "encoding": {}},
{"width": 167.7, "height": 169.1, "layer": [
 {"data": {"name": "ap"}, "transform": [{"filter": "datum.pan == 'I'"}], "mark": {"type": "line", "strokeWidth": 2.5, "color": "black"},
  "encoding": {"x": {"field": "t", "type": "quantitative", "scale": {"domain": [-199.9, 984.4], "nice": false, "zero": false}, "axis": null},
   "y": {"field": "v", "type": "quantitative", "scale": {"domain": [-95, 234.3], "nice": false, "zero": false}, "axis": {"values": [0], "offset": -28.3, "tickSize": 10, "tickWidth": 2, "domain": false, "labelFont": "DejaVu Sans", "labelFontSize": 9, "labelPadding": 1, "title": null}},
   "order": {"field": "i", "type": "quantitative"}}},
 {"data": {"name": "ann"}, "transform": [{"filter": "datum.pan == 'I' && datum.k == 'let'"}], "mark": {"type": "text", "font": "Liberation Serif", "fontWeight": "bold", "fontSize": 22, "color": "black"}, "encoding": {"x": {"field": "t", "type": "quantitative"}, "y": {"field": "v", "type": "quantitative"}, "text": {"field": "txt"}}},
 {"data": {"name": "ann"}, "transform": [{"filter": "datum.pan == 'I' && datum.k == 'num'"}], "mark": {"type": "text", "font": "DejaVu Sans", "fontSize": 13, "color": "black"}, "encoding": {"x": {"field": "t", "type": "quantitative"}, "y": {"field": "v", "type": "quantitative"}, "text": {"field": "txt"}}},
 {"data": {"name": "mv"}, "transform": [{"filter": "datum.pan == 'I'"}], "mark": {"type": "text", "font": "Liberation Serif", "fontSize": 16, "angle": 270, "align": "center", "baseline": "middle", "text": "50 mV", "color": "black"}, "encoding": {"x": {"field": "t", "type": "quantitative"}, "y": {"field": "v", "type": "quantitative"}}}
]},
{"width": 127.4, "height": 169.1, "layer": [
 {"data": {"name": "ap"}, "transform": [{"filter": "datum.pan == 'J'"}], "mark": {"type": "line", "strokeWidth": 2.5, "color": "black"},
  "encoding": {"x": {"field": "t", "type": "quantitative", "scale": {"domain": [0, 900], "nice": false, "zero": false}, "axis": null},
   "y": {"field": "v", "type": "quantitative", "scale": {"domain": [-95, 234.3], "nice": false, "zero": false}, "axis": {"values": [0], "tickSize": 10, "tickWidth": 2, "domain": false, "labelFont": "DejaVu Sans", "labelFontSize": 9, "labelPadding": 1, "title": null}},
   "order": {"field": "i", "type": "quantitative"}}},
 {"data": {"name": "ann"}, "transform": [{"filter": "datum.pan == 'J' && datum.k == 'let'"}], "mark": {"type": "text", "font": "DejaVu Sans", "fontWeight": "bold", "fontSize": 18, "color": "black"}, "encoding": {"x": {"field": "t", "type": "quantitative"}, "y": {"field": "v", "type": "quantitative"}, "text": {"field": "txt"}}},
 {"data": {"name": "ann"}, "transform": [{"filter": "datum.pan == 'J' && datum.k == 'num'"}], "mark": {"type": "text", "font": "DejaVu Sans", "fontSize": 13, "color": "black"}, "encoding": {"x": {"field": "t", "type": "quantitative"}, "y": {"field": "v", "type": "quantitative"}, "text": {"field": "txt"}}}
]},

{"width": 49.3, "height": 80.9, "layer": [
 {"data": {"name": "ap"}, "transform": [{"filter": "datum.pan == 'C'"}], "mark": {"type": "line", "strokeWidth": 2.5, "color": "#ff0000"},
  "encoding": {"x": {"field": "t", "type": "quantitative", "scale": {"domain": [0, 348.2], "nice": false, "zero": false}, "axis": null},
   "y": {"field": "v", "type": "quantitative", "scale": {"domain": [-104.5, 52.9], "nice": false, "zero": false}, "axis": {"values": [0], "tickSize": 10, "tickWidth": 2, "domain": false, "labelFont": "DejaVu Sans", "labelFontSize": 9, "labelPadding": 1, "title": null}},
   "order": {"field": "i", "type": "quantitative"}}},
 {"data": {"name": "ann"}, "transform": [{"filter": "datum.pan == 'C' && datum.k == 'let'"}], "mark": {"type": "text", "font": "DejaVu Sans", "fontWeight": "bold", "fontSize": 18, "color": "#ff0000"}, "encoding": {"x": {"field": "t", "type": "quantitative"}, "y": {"field": "v", "type": "quantitative"}, "text": {"field": "txt"}}},
 {"data": {"name": "ann"}, "transform": [{"filter": "datum.pan == 'C' && datum.k == 'num'"}], "mark": {"type": "text", "font": "DejaVu Sans", "fontSize": 13, "color": "black"}, "encoding": {"x": {"field": "t", "type": "quantitative"}, "y": {"field": "v", "type": "quantitative"}, "text": {"field": "txt"}}},
 {"data": {"name": "mv"}, "transform": [{"filter": "datum.pan == 'C'"}], "mark": {"type": "text", "font": "Liberation Serif", "fontSize": 16, "angle": 270, "align": "center", "baseline": "middle", "text": "50 mV", "color": "black"}, "encoding": {"x": {"field": "t", "type": "quantitative"}, "y": {"field": "v", "type": "quantitative"}}}
]},
{"width": 277, "height": 80.9, "layer": [
 {"data": {"name": "ap"}, "transform": [{"filter": "datum.pan == 'DE'"}], "mark": {"type": "line", "strokeWidth": 2.5, "color": "#ff0000"},
  "encoding": {"x": {"field": "t", "type": "quantitative", "scale": {"domain": [-651.8, 1304.4], "nice": false, "zero": false}, "axis": null},
   "y": {"field": "v", "type": "quantitative", "scale": {"domain": [-104.5, 52.9], "nice": false, "zero": false}, "axis": {"values": [0], "offset": -92.3, "tickSize": 10, "tickWidth": 2, "domain": false, "labelFont": "DejaVu Sans", "labelFontSize": 9, "labelPadding": 1, "title": null}},
   "order": {"field": "i", "type": "quantitative"}}},
 {"data": {"name": "ann"}, "transform": [{"filter": "datum.pan == 'DE' && datum.k == 'let'"}], "mark": {"type": "text", "font": "DejaVu Sans", "fontWeight": "bold", "fontSize": 18, "color": "#ff0000"}, "encoding": {"x": {"field": "t", "type": "quantitative"}, "y": {"field": "v", "type": "quantitative"}, "text": {"field": "txt"}}},
 {"data": {"name": "ann"}, "transform": [{"filter": "datum.pan == 'DE' && datum.k == 'num'"}], "mark": {"type": "text", "font": "DejaVu Sans", "fontSize": 13, "color": "black"}, "encoding": {"x": {"field": "t", "type": "quantitative"}, "y": {"field": "v", "type": "quantitative"}, "text": {"field": "txt"}}}
]},
{"width": 123, "height": 1, "data": {"values": [{}]}, "mark": {"type": "point", "opacity": 0}, "encoding": {}},
{"width": 167.7, "height": 80.9, "layer": [
 {"data": {"name": "ap"}, "transform": [{"filter": "datum.pan == 'K'"}], "mark": {"type": "line", "strokeWidth": 2.5, "color": "#ff0000"},
  "encoding": {"x": {"field": "t", "type": "quantitative", "scale": {"domain": [-199.9, 984.4], "nice": false, "zero": false}, "axis": null},
   "y": {"field": "v", "type": "quantitative", "scale": {"domain": [-104.5, 52.9], "nice": false, "zero": false}, "axis": {"values": [0], "offset": -28.3, "tickSize": 10, "tickWidth": 2, "domain": false, "labelFont": "DejaVu Sans", "labelFontSize": 9, "labelPadding": 1, "title": null}},
   "order": {"field": "i", "type": "quantitative"}}},
 {"data": {"name": "ann"}, "transform": [{"filter": "datum.pan == 'K' && datum.k == 'let'"}], "mark": {"type": "text", "font": "DejaVu Sans", "fontWeight": "bold", "fontSize": 18, "color": "#ff0000"}, "encoding": {"x": {"field": "t", "type": "quantitative"}, "y": {"field": "v", "type": "quantitative"}, "text": {"field": "txt"}}},
 {"data": {"name": "ann"}, "transform": [{"filter": "datum.pan == 'K' && datum.k == 'num'"}], "mark": {"type": "text", "font": "DejaVu Sans", "fontSize": 13, "color": "black"}, "encoding": {"x": {"field": "t", "type": "quantitative"}, "y": {"field": "v", "type": "quantitative"}, "text": {"field": "txt"}}},
 {"data": {"name": "mv"}, "transform": [{"filter": "datum.pan == 'K'"}], "mark": {"type": "text", "font": "Liberation Serif", "fontSize": 16, "angle": 270, "align": "center", "baseline": "middle", "text": "50 mV", "color": "black"}, "encoding": {"x": {"field": "t", "type": "quantitative"}, "y": {"field": "v", "type": "quantitative"}}}
]},
{"width": 127.4, "height": 80.9, "layer": [
 {"data": {"name": "ap"}, "transform": [{"filter": "datum.pan == 'L'"}], "mark": {"type": "line", "strokeWidth": 2.5, "color": "#ff0000"},
  "encoding": {"x": {"field": "t", "type": "quantitative", "scale": {"domain": [0, 900], "nice": false, "zero": false}, "axis": null},
   "y": {"field": "v", "type": "quantitative", "scale": {"domain": [-104.5, 52.9], "nice": false, "zero": false}, "axis": {"values": [0], "tickSize": 10, "tickWidth": 2, "domain": false, "labelFont": "DejaVu Sans", "labelFontSize": 9, "labelPadding": 1, "title": null}},
   "order": {"field": "i", "type": "quantitative"}}},
 {"data": {"name": "ann"}, "transform": [{"filter": "datum.pan == 'L' && datum.k == 'let'"}], "mark": {"type": "text", "font": "DejaVu Sans", "fontWeight": "bold", "fontSize": 18, "color": "#ff0000"}, "encoding": {"x": {"field": "t", "type": "quantitative"}, "y": {"field": "v", "type": "quantitative"}, "text": {"field": "txt"}}},
 {"data": {"name": "ann"}, "transform": [{"filter": "datum.pan == 'L' && datum.k == 'num'"}], "mark": {"type": "text", "font": "DejaVu Sans", "fontSize": 13, "color": "black"}, "encoding": {"x": {"field": "t", "type": "quantitative"}, "y": {"field": "v", "type": "quantitative"}, "text": {"field": "txt"}}},
 {"data": {"name": "mv"}, "transform": [{"filter": "datum.pan == 'L'"}], "mark": {"type": "text", "font": "Liberation Serif", "fontSize": 16, "angle": 270, "align": "center", "baseline": "middle", "text": "50 mV", "color": "black"}, "encoding": {"x": {"field": "t", "type": "quantitative"}, "y": {"field": "v", "type": "quantitative"}}},
 {"data": {"name": "ms"}, "transform": [{"filter": "datum.pan == 'L'"}], "mark": {"type": "rule", "strokeWidth": 2, "color": "black"}, "encoding": {"x": {"field": "t", "type": "quantitative"}, "x2": {"field": "t2"}, "y": {"field": "v", "type": "quantitative"}}},
 {"data": {"name": "ms"}, "transform": [{"filter": "datum.pan == 'L'"}], "mark": {"type": "text", "font": "Liberation Serif", "fontSize": 17, "align": "center", "baseline": "middle", "text": "500 ms", "color": "black"}, "encoding": {"x": {"field": "tt", "type": "quantitative"}, "y": {"field": "tv", "type": "quantitative"}}}
]},

{"width": 49.3, "height": 80, "layer": [
 {"data": {"name": "ap"}, "transform": [{"filter": "datum.pan == 'FGH'"}], "mark": {"type": "line", "strokeWidth": 2.5, "color": "#0000ff"},
  "encoding": {"x": {"field": "t", "type": "quantitative", "scale": {"domain": [0, 348.2], "nice": false, "zero": false}, "axis": null},
   "y": {"field": "v", "type": "quantitative", "scale": {"domain": [-101.2, 54.5], "nice": false, "zero": false}, "axis": {"values": [0], "tickSize": 10, "tickWidth": 2, "domain": false, "labelFont": "DejaVu Sans", "labelFontSize": 9, "labelPadding": 1, "title": null}},
   "order": {"field": "i", "type": "quantitative"}}},
 {"data": {"name": "ann"}, "transform": [{"filter": "datum.pan == 'FGH' && datum.k == 'let'"}], "mark": {"type": "text", "font": "DejaVu Sans", "fontWeight": "bold", "fontSize": 18, "color": "#0000ff"}, "encoding": {"x": {"field": "t", "type": "quantitative"}, "y": {"field": "v", "type": "quantitative"}, "text": {"field": "txt"}}},
 {"data": {"name": "ann"}, "transform": [{"filter": "datum.pan == 'FGH' && datum.k == 'num'"}], "mark": {"type": "text", "font": "DejaVu Sans", "fontSize": 13, "color": "black"}, "encoding": {"x": {"field": "t", "type": "quantitative"}, "y": {"field": "v", "type": "quantitative"}, "text": {"field": "txt"}}},
 {"data": {"name": "mv"}, "transform": [{"filter": "datum.pan == 'FGH'"}], "mark": {"type": "text", "font": "Liberation Serif", "fontSize": 16, "angle": 270, "align": "center", "baseline": "middle", "text": "50 mV", "color": "black"}, "encoding": {"x": {"field": "t", "type": "quantitative"}, "y": {"field": "v", "type": "quantitative"}}},
 {"data": {"name": "ms"}, "transform": [{"filter": "datum.pan == 'FGH'"}], "mark": {"type": "rule", "strokeWidth": 2, "color": "black"}, "encoding": {"x": {"field": "t", "type": "quantitative"}, "x2": {"field": "t2"}, "y": {"field": "v", "type": "quantitative"}}},
 {"data": {"name": "ms"}, "transform": [{"filter": "datum.pan == 'FGH'"}], "mark": {"type": "text", "font": "Liberation Serif", "fontSize": 17, "align": "center", "baseline": "middle", "text": "500 ms", "color": "black"}, "encoding": {"x": {"field": "tt", "type": "quantitative"}, "y": {"field": "tv", "type": "quantitative"}}}
]},
{"width": 277, "height": 1, "data": {"values": [{}]}, "mark": {"type": "point", "opacity": 0}, "encoding": {}},
{"width": 123, "height": 1, "data": {"values": [{}]}, "mark": {"type": "point", "opacity": 0}, "encoding": {}},
{"width": 167.7, "height": 80, "layer": [
 {"data": {"name": "ap"}, "transform": [{"filter": "datum.pan == 'M'"}], "mark": {"type": "line", "strokeWidth": 2.5, "color": "#ff0000"},
  "encoding": {"x": {"field": "t", "type": "quantitative", "scale": {"domain": [-199.9, 984.4], "nice": false, "zero": false}, "axis": null},
   "y": {"field": "v", "type": "quantitative", "scale": {"domain": [-101.2, 54.5], "nice": false, "zero": false}, "axis": {"values": [0], "offset": -28.3, "tickSize": 10, "tickWidth": 2, "domain": false, "labelFont": "DejaVu Sans", "labelFontSize": 9, "labelPadding": 1, "title": null}},
   "order": {"field": "i", "type": "quantitative"}}},
 {"data": {"name": "ann"}, "transform": [{"filter": "datum.pan == 'M' && datum.k == 'let'"}], "mark": {"type": "text", "font": "DejaVu Sans", "fontWeight": "bold", "fontSize": 18, "color": "#ff0000"}, "encoding": {"x": {"field": "t", "type": "quantitative"}, "y": {"field": "v", "type": "quantitative"}, "text": {"field": "txt"}}},
 {"data": {"name": "ann"}, "transform": [{"filter": "datum.pan == 'M' && datum.k == 'num'"}], "mark": {"type": "text", "font": "DejaVu Sans", "fontSize": 13, "color": "black"}, "encoding": {"x": {"field": "t", "type": "quantitative"}, "y": {"field": "v", "type": "quantitative"}, "text": {"field": "txt"}}},
 {"data": {"name": "mv"}, "transform": [{"filter": "datum.pan == 'M'"}], "mark": {"type": "text", "font": "Liberation Serif", "fontSize": 16, "angle": 270, "align": "center", "baseline": "middle", "text": "50 mV", "color": "black"}, "encoding": {"x": {"field": "t", "type": "quantitative"}, "y": {"field": "v", "type": "quantitative"}}},
 {"data": {"name": "ms"}, "transform": [{"filter": "datum.pan == 'M'"}], "mark": {"type": "rule", "strokeWidth": 2, "color": "black"}, "encoding": {"x": {"field": "t", "type": "quantitative"}, "x2": {"field": "t2"}, "y": {"field": "v", "type": "quantitative"}}},
 {"data": {"name": "ms"}, "transform": [{"filter": "datum.pan == 'M'"}], "mark": {"type": "text", "font": "Liberation Serif", "fontSize": 17, "align": "center", "baseline": "middle", "text": "500 ms", "color": "black"}, "encoding": {"x": {"field": "tt", "type": "quantitative"}, "y": {"field": "tv", "type": "quantitative"}}}
]},
{"width": 1, "height": 1, "data": {"values": [{}]}, "mark": {"type": "point", "opacity": 0}, "encoding": {}}
],
"columns": 5, "spacing": 0, "bounds": "flush", "align": "each"
}
